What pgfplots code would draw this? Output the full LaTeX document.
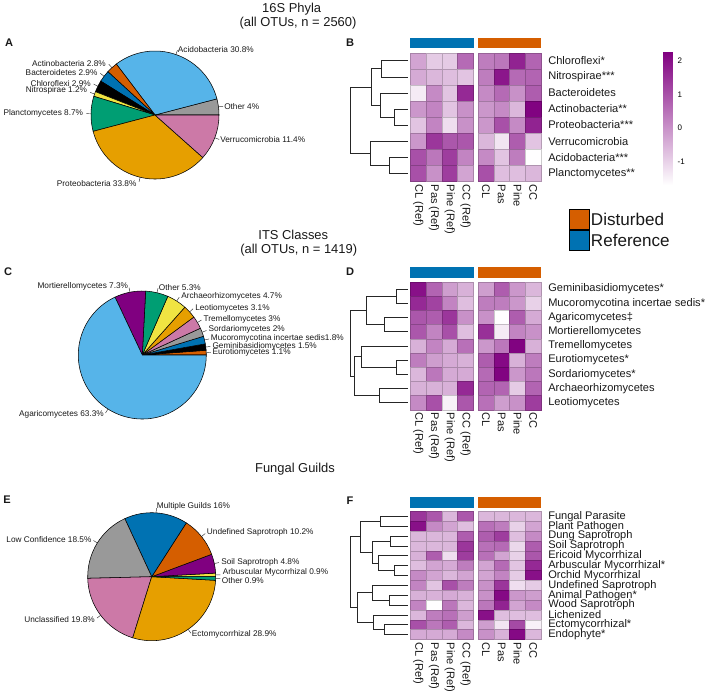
\documentclass[border=0pt]{standalone}
\usepackage{pgfplots}
\pgfplotsset{compat=1.18}
\usepackage{pgfplotstable}
\usepackage{fontspec}
\setmainfont{Liberation Sans}

\definecolor{cSky}{HTML}{56B4E9}
\definecolor{cVerm}{HTML}{D55E00}
\definecolor{cBlue}{HTML}{0072B2}
\definecolor{cYel}{HTML}{F0E442}
\definecolor{cGreen}{HTML}{009E73}
\definecolor{cOrg}{HTML}{E69F00}
\definecolor{cPink}{HTML}{CC79A7}
\definecolor{cGray}{HTML}{999999}
\definecolor{cPurp}{HTML}{800080}

\newcommand\fs[1]{\fontsize{#1}{#1}\selectfont}
\tikzset{lab/.style={inner sep=0pt, text=black!90}}

% heatmap values (row z-scores), columns: CL(Ref) Pas(Ref) Pine(Ref) CC(Ref) CL Pas Pine CC
\pgfplotstableread{
c1 c2 c3 c4 c5 c6 c7 c8
-0.3 -0.9 -0.9 0.6 0.3 0.4 1.7 0.7
-0.4 -0.6 -0.7 -0.8 0.3 1.9 0.6 0.7
-1.4 0.1 -0.8 1.6 0.1 0.6 0.0 0.8
-0.1 0.2 -0.8 0.0 -0.1 0.1 -0.6 2.2
-0.8 0.2 -1.2 0.0 -0.1 1.0 0.1 1.7
-0.1 1.4 0.9 0.9 -0.6 -1.3 0.8 -0.8
1.0 0.4 1.3 0.2 0.1 -0.8 0.3 -1.7
1.0 0.0 1.3 -0.3 1.0 -0.7 -0.7 -0.6
}\tabB

\pgfplotstableread{
c1 c2 c3 c4 c5 c6 c7 c8
2.0 0.7 -0.2 -0.5 -0.2 0.8 -0.1 -0.6
1.6 1.2 0.2 -0.7 0.3 0.3 -0.1 -1.0
0.9 0.8 1.4 0.0 0.0 -1.7 0.8 -0.4
0.9 0.2 1.0 -0.7 1.5 -1.4 0.2 0.0
-0.5 0.2 -0.4 0.5 -0.1 0.4 2.2 -0.5
0.3 -0.2 -0.4 -0.5 0.8 2.1 -0.5 0.3
-0.6 0.4 -0.4 -0.4 0.6 2.2 -0.1 0.4
-0.5 -0.5 -0.5 1.6 0.7 0.7 -0.9 0.7
0.1 1.0 -1.5 0.9 0.5 -0.2 0.0 1.3
}\tabD

\pgfplotstableread{
c1 c2 c3 c4 c5 c6 c7 c8
1.4 0.9 -0.6 0.9 -0.6 -0.6 -0.6 -0.6
2.0 0.1 -0.3 -0.7 0.5 0.3 -1.0 -0.3
-0.6 -0.6 -0.6 0.8 0.8 1.3 -0.7 0.1
-0.6 -0.6 -0.6 1.4 0.5 0.6 -1.1 0.8
-0.5 0.8 -1.2 1.3 0.5 -0.3 -1.0 0.9
-0.7 -0.3 -0.4 0.3 -0.3 0.6 -0.8 1.6
0.1 -0.3 -0.6 -0.3 -0.3 0.2 -0.9 2.0
0.2 -0.8 1.0 0.3 0.0 1.4 -1.2 -0.9
-0.5 -0.5 -0.4 -0.5 0.0 2.1 -0.1 -0.2
0.2 -1.7 0.4 -0.6 0.4 1.7 -0.3 0.1
-0.6 0.3 0.5 -0.2 2.0 -0.7 -0.7 -0.7
1.0 0.4 0.8 -0.6 -0.2 -1.3 1.1 -1.5
-0.4 -0.4 -0.4 0.1 0.0 -0.5 2.1 -0.6
}\tabF

% #1 table, #2 first row centre (px), #3 row height (px), #4 mark yscale
\newcommand\heat[4]{%
  \pgfplotsinvokeforeach{1,...,8}{%
    \addplot[scatter, only marks, scatter src=explicit, mark=square*,
      mark size=5.93pt, mark options={yscale=#4}]
      table[x expr={418.2+15.8*(##1-1)+4.5*(##1>4)}, y expr={#2+#3*\coordindex}, meta=c##1] {#1};
  }}

% pie: centre x, centre y, start angle, degrees per unit, value/colour list
\newcommand\pie[5]{%
  \xdef\pa{#3}%
  \foreach \v/\c in {#5}{%
    \pgfmathsetmacro\pb{\pa+\v*#4}%
    \pgfmathsetmacro\pmid{(\pa+\pb)/2}%
    \edef\cmd{\noexpand\filldraw[fill=\c, draw=black, line width=0.4pt] (axis cs:#1,#2) -- ++(\pa:48pt)
      arc[start angle=\pa, end angle=\pb, radius=48pt] -- cycle;
      \noexpand\draw[black!80, line width=0.35pt] (axis cs:#1,#2) ++(\pmid:48pt) -- ++(\pmid:3.5pt);}%
    \cmd
    \xdef\pa{\pb}%
  }}

\newcommand\collabs[1]{%
  \foreach \nm [count=\i] in {CL (Ref),Pas (Ref),Pine (Ref),CC (Ref),CL,Pas,Pine,CC}{%
    \pgfmathsetmacro\xx{418.2+15.8*(\i-1)+4.5*(\i>4)}%
    \edef\cmd{\noexpand\node[lab, font=\noexpand\fs{8.3}, rotate=-90, anchor=west] at (axis cs:\xx,#1) {\nm};}%
    \cmd}}

\newcommand\rowlabs[3]{%
  \foreach \nm [count=\i] in {#3}{%
    \pgfmathsetmacro\yy{#1+#2*(\i-1)}%
    \edef\cmd{\noexpand\node[lab, font=\noexpand\fs{8.3}, anchor=west] at (axis cs:548,\yy) {\nm};}%
    \cmd}}

\begin{document}
\begin{tikzpicture}
\begin{axis}[
  at={(0,0)}, anchor=south west,
  scale only axis, width=535.5pt, height=522.75pt,
  xmin=0, xmax=714, ymin=0, ymax=697, y dir=reverse,
  axis lines=none, xtick=\empty, ytick=\empty,
  clip=false,
  colormap={wp}{rgb255=(255,255,255) rgb255=(128,0,128)},
  point meta min=-1.71, point meta max=2.27,
  colorbar,
  colorbar style={
    at={(parent axis.north west)}, anchor=north west,
    xshift=489.2pt, yshift=-38.8pt,
    width=7pt, height=100pt,
    y dir=normal,
    axis line style={draw=none},
    ytick={-1,0,1,2}, tick style={draw=none},
    yticklabel style={font=\fs{6}},
    /pgf/number format/assume math mode=true,
  },
  dendro/.style={black!85, line width=0.6pt, mark=none, unbounded coords=jump},
]

% ---------- titles and panel letters
\node[lab, font=\fs{9.7}] at (axis cs:291.7,9) {16S Phyla};
\node[lab, font=\fs{9.7}] at (axis cs:298,23.5) {(all OTUs, n = 2560)};
\node[lab, font=\fs{9.7}] at (axis cs:293.3,235) {ITS Classes};
\node[lab, font=\fs{9.7}] at (axis cs:298.7,250) {(all OTUs, n = 1419)};
\node[lab, font=\fs{9.7}] at (axis cs:295,469.3) {Fungal Guilds};
\node[lab, font=\fs{8.3}\bfseries] at (axis cs:9,43) {A};
\node[lab, font=\fs{8.3}\bfseries] at (axis cs:350,43) {B};
\node[lab, font=\fs{8.3}\bfseries] at (axis cs:8,272) {C};
\node[lab, font=\fs{8.3}\bfseries] at (axis cs:350,272) {D};
\node[lab, font=\fs{8.3}\bfseries] at (axis cs:7,500) {E};
\node[lab, font=\fs{8.3}\bfseries] at (axis cs:350,501) {F};

% ---------- pies
\pie{155}{115}{0}{3.6548}{4/cGray, 30.8/cSky, 2.8/cVerm, 2.9/cBlue, 2.9/black, 1.2/cYel, 8.7/cGreen, 33.8/cOrg, 11.4/cPink}
\pie{142.3}{355}{0}{3.8668}{1.1/cVerm, 1.5/black, 1.8/cBlue, 2/cGray, 3/cPink, 3.1/cOrg, 4.7/cYel, 5.3/cGreen, 7.3/cPurp, 63.3/cSky}
\pie{151.7}{576.7}{0}{3.6}{0.9/cYel, 4.8/cPurp, 10.2/cVerm, 16/cBlue, 18.5/cGray, 19.8/cPink, 28.9/cOrg, 0.9/cGreen}

\begin{scope}[every node/.style={lab, font=\fs{6.2}}]
\node[anchor=west] at (axis cs:177.7,49.3) {Acidobacteria 30.8\%};
\node[anchor=east] at (axis cs:106,63.3) {Actinobacteria 2.8\%};
\node[anchor=east] at (axis cs:97.7,72.7) {Bacteroidetes 2.9\%};
\node[anchor=east] at (axis cs:91,83.3) {Chloroflexi 2.9\%};
\node[anchor=east] at (axis cs:87.3,90.7) {Nitrospirae 1.2\%};
\node[anchor=east] at (axis cs:83.3,113.3) {Planctomycetes 8.7\%};
\node[anchor=west] at (axis cs:224,106.7) {Other 4\%};
\node[anchor=west] at (axis cs:220,140) {Verrucomicrobia 11.4\%};
\node[anchor=east] at (axis cs:136.7,184) {Proteobacteria 33.8\%};

\node[anchor=east] at (axis cs:128.3,286) {Mortierellomycetes 7.3\%};
\node[anchor=west] at (axis cs:158.7,287.3) {Other 5.3\%};
\node[anchor=west] at (axis cs:181,296) {Archaeorhizomycetes 4.7\%};
\node[anchor=west] at (axis cs:195,308) {Leotiomycetes 3.1\%};
\node[anchor=west] at (axis cs:203.3,319) {Tremellomycetes 3\%};
\node[anchor=west] at (axis cs:208.3,329.7) {Sordariomycetes 2\%};
\node[anchor=west] at (axis cs:210.7,338.3) {Mucoromycotina incertae sedis1.8\%};
\node[anchor=west] at (axis cs:212.3,346) {Geminibasidiomycetes 1.5\%};
\node[anchor=west] at (axis cs:212.3,352.7) {Eurotiomycetes 1.1\%};
\node[anchor=east] at (axis cs:104,414.3) {Agaricomycetes 63.3\%};

\node[anchor=west] at (axis cs:156.7,506) {Multiple Guilds 16\%};
\node[anchor=east] at (axis cs:91.7,540) {Low Confidence 18.5\%};
\node[anchor=west] at (axis cs:206.7,532.3) {Undefined Saprotroph 10.2\%};
\node[anchor=west] at (axis cs:221,562.7) {Soil Saprotroph 4.8\%};
\node[anchor=west] at (axis cs:222.7,572.7) {Arbuscular Mycorrhizal 0.9\%};
\node[anchor=west] at (axis cs:221.7,580.7) {Other 0.9\%};
\node[anchor=east] at (axis cs:95,620) {Unclassified 19.8\%};
\node[anchor=west] at (axis cs:191.7,634.3) {Ectomycorrhizal 28.9\%};
\end{scope}

% ---------- group bars
\fill[cBlue] (axis cs:410.3,37.5) rectangle (axis cs:473.5,48.3);
\fill[cVerm] (axis cs:478,37.5) rectangle (axis cs:541,48.3);
\fill[cBlue] (axis cs:410.3,267.3) rectangle (axis cs:473.5,278.3);
\fill[cVerm] (axis cs:478,267.3) rectangle (axis cs:541,278.3);
\fill[cBlue] (axis cs:410.3,496.7) rectangle (axis cs:473.5,507.7);
\fill[cVerm] (axis cs:478,496.7) rectangle (axis cs:541,507.7);

% ---------- heatmaps
\heat{\tabB}{60.8}{16.05}{1.016}
\heat{\tabD}{289.1}{14.2}{0.899}
\heat{\tabF}{516.4}{9.85}{0.623}

% ---------- dendrograms
\addplot[dendro] coordinates {
 (408,60.8)(381.3,60.8)(381.3,76.9)(408,76.9) (nan,nan)
 (408,109.0)(394.3,109.0)(394.3,125.0)(408,125.0) (nan,nan)
 (408,92.9)(380.7,92.9)(380.7,117.0)(394.3,117.0) (nan,nan)
 (381.3,68.85)(371,68.85)(371,104.95)(380.7,104.95) (nan,nan)
 (408,157.1)(389.3,157.1)(389.3,173.2)(408,173.2) (nan,nan)
 (408,141.1)(370.7,141.1)(370.7,165.15)(389.3,165.15) (nan,nan)
 (371,86.9)(350.7,86.9)(350.7,153.1)(370.7,153.1)
};
\addplot[dendro] coordinates {
 (408,289.1)(396,289.1)(396,303.3)(408,303.3) (nan,nan)
 (408,317.5)(384.3,317.5)(384.3,331.7)(408,331.7) (nan,nan)
 (396,296.2)(366.7,296.2)(366.7,324.6)(384.3,324.6) (nan,nan)
 (408,360.1)(396,360.1)(396,374.3)(408,374.3) (nan,nan)
 (408,345.9)(361,345.9)(361,367.2)(396,367.2) (nan,nan)
 (408,388.5)(379,388.5)(379,402.7)(408,402.7) (nan,nan)
 (361,356.55)(354.3,356.55)(354.3,395.6)(379,395.6) (nan,nan)
 (366.7,310.4)(350.7,310.4)(350.7,376.1)(354.3,376.1)
};
\addplot[dendro] coordinates {
 (408,516.4)(380,516.4)(380,526.25)(408,526.25) (nan,nan)
 (408,536.1)(390,536.1)(390,545.95)(408,545.95) (nan,nan)
 (408,565.65)(394.3,565.65)(394.3,575.5)(408,575.5) (nan,nan)
 (408,555.8)(378.3,555.8)(378.3,570.6)(394.3,570.6) (nan,nan)
 (390,541.0)(372.7,541.0)(372.7,563.2)(378.3,563.2) (nan,nan)
 (380,521.3)(360.7,521.3)(360.7,552.1)(372.7,552.1) (nan,nan)
 (408,595.2)(389.3,595.2)(389.3,605.05)(408,605.05) (nan,nan)
 (408,585.35)(372,585.35)(372,600.1)(389.3,600.1) (nan,nan)
 (408,624.75)(384,624.75)(384,634.6)(408,634.6) (nan,nan)
 (408,614.9)(373.3,614.9)(373.3,629.7)(384,629.7) (nan,nan)
 (372,592.7)(357.3,592.7)(357.3,622.3)(373.3,622.3) (nan,nan)
 (360.7,536.7)(350,536.7)(350,607.5)(357.3,607.5)
};

% ---------- heatmap labels
\rowlabs{60.8}{16.05}{Chloroflexi*,Nitrospirae***,Bacteroidetes,Actinobacteria**,Proteobacteria***,Verrucomicrobia,Acidobacteria***,Planctomycetes**}
\rowlabs{289.1}{14.2}{Geminibasidiomycetes*,Mucoromycotina incertae sedis*,Agaricomycetes‡,Mortierellomycetes,Tremellomycetes,Eurotiomycetes*,Sordariomycetes*,Archaeorhizomycetes,Leotiomycetes}
\rowlabs{516.4}{9.85}{Fungal Parasite,Plant Pathogen,Dung Saprotroph,Soil Saprotroph,Ericoid Mycorrhizal,Arbuscular Mycorrhizal*,Orchid Mycorrhizal,Undefined Saprotroph,Animal Pathogen*,Wood Saprotroph,Lichenized,Ectomycorrhizal*,Endophyte*}
\collabs{184.5}
\collabs{412.5}
\collabs{642.5}

% ---------- group legend
\filldraw[fill=cVerm, draw=black, line width=0.8pt] (axis cs:569.3,209.3) rectangle (axis cs:589.3,229.3);
\filldraw[fill=cBlue, draw=black, line width=0.8pt] (axis cs:569.3,230.7) rectangle (axis cs:589.3,250.7);
\node[lab, font=\fs{12.8}, anchor=west] at (axis cs:590.7,219.3) {Disturbed};
\node[lab, font=\fs{12.8}, anchor=west] at (axis cs:590.7,240.7) {Reference};
\end{axis}
\pgfresetboundingbox
\path[use as bounding box] (0,0) rectangle (535.5pt,522.75pt);
\end{tikzpicture}
\end{document}
